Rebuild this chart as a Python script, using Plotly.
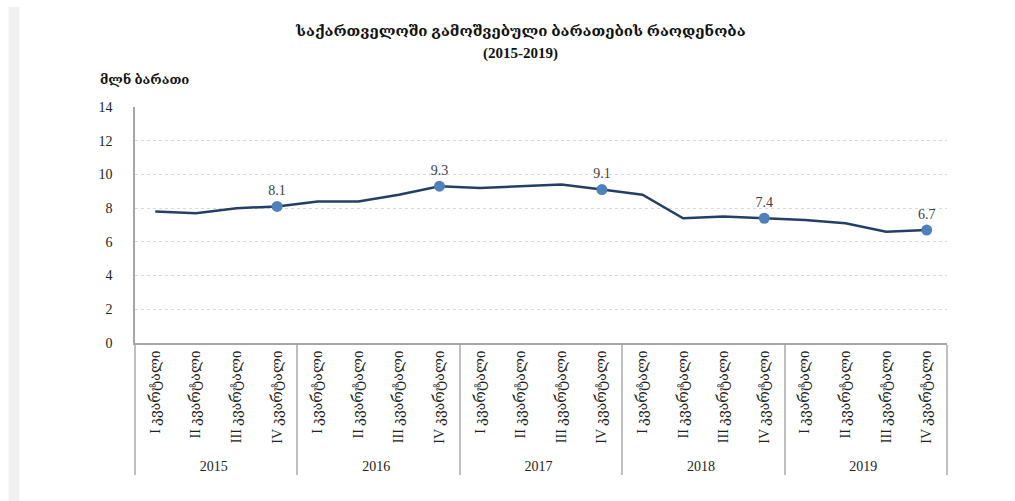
import plotly.graph_objects as go

years = ["2015", "2016", "2017", "2018", "2019"]
quarters = ["I კვარტალი", "II კვარტალი", "III კვარტალი", "IV კვარტალი"]
cards_mln = [
    7.8, 7.7, 8.0, 8.1,
    8.4, 8.4, 8.8, 9.3,
    9.2, 9.3, 9.4, 9.1,
    8.8, 7.4, 7.5, 7.4,
    7.3, 7.1, 6.6, 6.7,
]

x_year = [y for y in years for _ in quarters]
x_q = [q for _ in years for q in quarters]

# year-end points get a marker and a value label
end_idx = [i for i in range(len(cards_mln)) if i % 4 == 3]

serif = "Liberation Serif, DejaVu Serif, serif"
line_col = "#243f66"
dot_col = "#4f81bd"

fig = go.Figure()
fig.add_trace(go.Scatter(
    x=[x_year, x_q], y=cards_mln, mode="lines",
    line=dict(color=line_col, width=2.5), hoverinfo="y", showlegend=False,
))
fig.add_trace(go.Scatter(
    x=[[x_year[i] for i in end_idx], [x_q[i] for i in end_idx]],
    y=[cards_mln[i] for i in end_idx],
    mode="markers+text",
    marker=dict(color=dot_col, size=11),
    text=[f"{cards_mln[i]:.1f}" for i in end_idx],
    textposition="top center",
    textfont=dict(family=serif, size=14, color="#404040"),
    showlegend=False,
))

title_font = dict(family=serif, size=15, color="#111")
fig.update_layout(
    width=1015, height=501,
    margin=dict(l=135, r=68, t=107, b=158),
    paper_bgcolor="white", plot_bgcolor="white",
    font=dict(family=serif, color="#222"),
    annotations=[
        dict(text="<b>საქართველოში გამოშვებული ბარათების რაოდენობა</b>",
             xref="paper", yref="paper", x=0.475, y=1.32,
             xanchor="center", yanchor="middle", showarrow=False, font=title_font),
        dict(text="<b>(2015-2019)</b>",
             xref="paper", yref="paper", x=0.475, y=1.225,
             xanchor="center", yanchor="middle", showarrow=False, font=title_font),
        dict(text="<b>მლნ ბარათი</b>", xref="paper", yref="paper",
             x=-0.045, y=1.075, xanchor="left", yanchor="bottom", showarrow=False,
             font=dict(family=serif, size=13, color="#111")),
    ],
    shapes=[dict(
        type="rect", xref="paper", yref="paper", layer="below",
        x0=-0.1557, x1=-0.1422, y0=-0.68, y1=1.425,
        fillcolor="#f1f1f4", line=dict(width=0),
    )],
)

fig.update_xaxes(
    type="multicategory", tickangle=-90, range=[-0.5, 19.5],
    tickfont=dict(family=serif, size=14, color="#222"),
    showline=True, linecolor="#a6a6a6", linewidth=1.5,
    showgrid=False, ticks="",
    showdividers=True, dividercolor="#bfbfbf", dividerwidth=1.5,
)
fig.update_yaxes(
    range=[0, 14], dtick=2,
    tickfont=dict(family=serif, size=14, color="#222"),
    showline=True, linecolor="#a6a6a6", linewidth=1.5,
    gridcolor="#d9d9d9", griddash="dot", gridwidth=1,
    zeroline=False, ticks="", ticklabelstandoff=18,
)

fig.write_html("out.html")
